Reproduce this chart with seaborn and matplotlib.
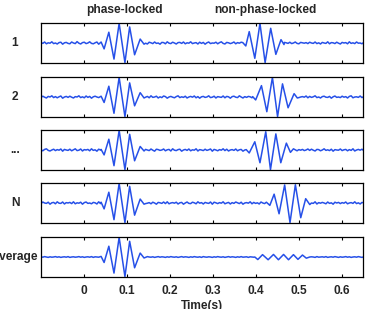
import numpy as np
import pandas as pd
import matplotlib
matplotlib.use("Agg")
import matplotlib.pyplot as plt
import seaborn as sns

# ---------------- data ----------------
row_labels = ["1", "2", "...", "N", "Average"]
col_titles = ["phase-locked", "non-phase-locked"]
x_ticks = [0, 0.1, 0.2, 0.3, 0.4, 0.5, 0.6]
x_tick_labels = ["0", "0.1", "0.2", "0.3", "0.4", "0.5", "0.6"]
x_label = "Time(s)"

noise_t0 = -0.1      # s, first noise sample
noise_dt = 0.0042    # s, noise sample spacing

# burst extrema (time in s, amplitude)
pl1_t = [0.040, 0.047, 0.058, 0.070, 0.082, 0.0955, 0.1065, 0.118, 0.131, 0.140]
pl1_v = [0.05, -0.30, 0.55, -0.82, 1.00, -1.00, 0.82, -0.60, 0.20, -0.06]
npl1_t = [0.370, 0.377, 0.385, 0.398, 0.410, 0.422, 0.435, 0.447, 0.459, 0.466]
npl1_v = [0.02, -0.15, 0.58, -0.78, 1.00, -1.00, 0.75, -0.58, 0.17, -0.08]

pl2_t = [0.040, 0.047, 0.058, 0.070, 0.082, 0.0955, 0.1065, 0.118, 0.131, 0.140]
pl2_v = [0.04, -0.28, 0.55, -0.83, 1.00, -1.00, 0.72, -0.45, 0.22, -0.05]
npl2_t = [0.393, 0.400, 0.4135, 0.426, 0.439, 0.451, 0.4625, 0.4755, 0.4895, 0.497]
npl2_v = [0.02, -0.15, 0.58, -0.75, 1.00, -1.00, 0.67, -0.55, 0.17, -0.05]

pl3_t = [0.040, 0.047, 0.058, 0.070, 0.082, 0.0955, 0.1065, 0.118, 0.131, 0.140]
pl3_v = [0.03, -0.25, 0.55, -0.80, 1.00, -1.00, 0.80, -0.55, 0.18, -0.05]
npl3_t = [0.378, 0.385, 0.398, 0.410, 0.4235, 0.4345, 0.447, 0.4585, 0.4715, 0.481]
npl3_v = [0.02, -0.15, 0.42, -0.65, 0.93, -1.00, 0.82, -0.65, 0.35, -0.12]

plN_t = [0.040, 0.047, 0.058, 0.070, 0.082, 0.0955, 0.1065, 0.118, 0.131, 0.140]
plN_v = [0.04, -0.30, 0.55, -0.85, 1.00, -1.00, 0.85, -0.62, 0.20, -0.06]
nplN_t = [0.426, 0.433, 0.443, 0.4545, 0.4675, 0.480, 0.4925, 0.505, 0.5165, 0.526]
nplN_v = [0.02, -0.12, 0.45, -0.55, 0.92, -1.00, 0.93, -0.75, 0.22, -0.08]

plA_t = [0.040, 0.047, 0.058, 0.070, 0.082, 0.0955, 0.1065, 0.118, 0.131, 0.140]
plA_v = [0.03, -0.28, 0.55, -0.82, 1.00, -1.00, 0.80, -0.55, 0.20, -0.05]
nplA_t = [0.398, 0.405, 0.416, 0.429, 0.4415, 0.453, 0.465, 0.4765, 0.488, 0.4985, 0.509, 0.518, 0.526]
nplA_v = [0.00, -0.13, 0.12, -0.14, 0.13, -0.14, 0.13, -0.14, 0.12, -0.12, 0.10, -0.06, 0.00]

# baseline noise read as hundredths of the burst amplitude
noise1 = [3,-2,5,-4,1,-1,6,-3,0,-5,2,4,-6,1,3,-2,-4,5,0,-3,
          7,-1,-5,2,4,-3,0,6,-2,-4,1,5,-6,2,-1,3,-3,0,4,-5,
          2,6,-2,-4,3,0,-1,5,-6,1,4,-3,2,-2,0,6,-4,3,-1,-5,
          4,1,-3,5,-2,0,-6,3,2,-4,6,-1,-3,4,0,-5,2,3,-2,5,
          -4,1,-1,6,-3,0,2,-5,4,-2,3,-6,1,5,-3,0,-1,4,-4,2,
          6,-2,-5,3,1,-3,0,5,-4,2,-1,4,-6,3,0,-2,5,-3,1,-4,
          6,-1,-2,3,-5,2,0,4,-3,1,5,-4,-1,2,-6,3,1,-2,4,-3,
          0,5,-2,-4,3,1,-1,2,-3,4,0,-2,5,-3,1,-5,3,0,-2,6,
          -4,2,1,-3,4,-1,-5,3,0,2,-4,6,-2,1,-3,5,-1,0,-4,3]
noise2 = [-2,4,-1,-5,3,0,6,-3,2,-4,1,5,-6,0,3,-2,4,-1,-5,2,
          0,6,-3,1,-4,5,-2,3,-6,1,4,0,-3,2,-5,6,-1,-2,3,-4,
          5,0,-3,2,-1,6,-5,1,3,-2,-4,4,0,-6,2,5,-3,1,-1,3,
          -4,6,-2,0,4,-5,1,-3,5,2,-6,0,3,-1,-4,2,6,-3,1,-2,
          4,-5,0,3,-1,5,-4,2,-6,1,3,-2,0,6,-3,-1,4,-5,2,0,
          -2,5,-4,3,1,-6,2,4,-1,-3,6,0,-5,2,-2,3,1,-4,5,-1,
          0,-3,4,-6,2,1,-2,5,-3,0,4,-5,3,-1,2,6,-4,0,-2,3,
          -5,1,4,-3,0,2,-1,5,-4,3,-2,1,6,-3,0,-5,2,4,-1,-2,
          3,-6,1,5,-2,0,-3,4,-1,2,-5,3,6,-4,0,1,-2,5,-3,2]
noise3 = [1,-4,3,6,-2,-5,0,4,-3,2,-1,5,-6,3,0,-2,4,-4,1,6,
          -3,-1,5,-5,2,0,3,-4,6,-2,1,-6,4,0,-3,5,-1,2,-5,3,
          6,-4,0,1,-2,4,-6,3,-1,5,-3,0,2,-5,6,-2,-4,1,3,0,
          -3,5,-1,-6,4,2,-2,0,5,-4,1,3,-5,6,-1,-3,2,4,-6,0,
          3,-2,5,-4,1,-1,6,-5,2,0,-3,4,-2,1,5,-6,3,0,-4,2,
          -1,6,-3,4,-5,0,2,-2,5,-4,1,3,-6,0,4,-1,-3,5,-2,2,
          -5,4,1,-3,6,-2,0,3,-4,1,-1,5,-6,2,3,-3,0,4,-2,-5,
          6,1,-4,2,-1,3,-3,0,5,-2,4,-1,-5,3,2,-4,0,6,-2,1,
          -3,4,-6,2,0,-1,5,-3,1,3,-4,2,-2,6,-5,0,3,-1,4,-3]
noiseN = [-3,5,0,-2,4,-6,1,3,-4,6,-1,-2,5,-5,2,0,3,-3,6,-4,
          1,-1,4,-6,2,5,-2,0,-4,3,1,-5,6,-3,0,2,-1,4,-5,3,
          -2,6,0,-4,1,5,-3,2,-6,4,-1,0,3,-2,5,-5,1,6,-3,-1,
          2,-4,4,0,-6,3,1,-2,5,-3,6,-4,0,2,-1,4,-5,1,3,-6,
          0,5,-2,-3,4,1,-4,6,-1,2,-5,3,0,-2,5,-6,4,1,-3,2,
          -1,6,-4,0,3,-5,2,-2,5,1,-3,4,-6,0,2,-1,6,-4,3,-2,
          1,-5,5,0,-3,4,-1,2,-6,3,0,-2,5,-4,1,6,-3,-1,4,-5,
          2,0,-2,3,-4,5,-1,1,-3,4,0,-2,6,-5,2,-1,3,0,-4,5,
          -2,1,-6,4,0,3,-3,2,-1,5,-4,0,2,-2,6,-3,1,-5,3,0]
noiseA = [1,-1,2,0,-2,1,-1,0,2,-1,1,-2,0,1,-1,2,-2,0,1,-1,
          0,2,-1,1,-2,0,1,-1,2,-2,1,0,-1,2,-1,0,1,-2,1,0,
          -1,2,0,-2,1,-1,2,0,-1,1,-2,1,0,-1,2,-1,0,1,-2,2,
          0,-1,1,-2,0,2,-1,1,0,-2,1,-1,2,0,-1,1,-2,0,2,-1,
          1,0,-2,1,-1,2,0,-1,1,-2,2,0,-1,1,0,-2,1,-1,2,0,
          -1,1,-2,0,2,-1,1,0,-2,1,-1,2,-1,0,1,-2,1,0,-1,2,
          0,-2,1,-1,2,0,-1,1,-2,0,1,-1,2,-1,0,1,-2,1,0,-1,
          2,-1,0,1,-2,1,-1,0,2,-1,1,0,-2,2,-1,0,1,-1,2,-2,
          0,1,-1,2,0,-2,1,-1,0,2,-1,1,-2,0,1,-1,2,0,-2,1]

traces = [
    (noise1, [(pl1_t, pl1_v), (npl1_t, npl1_v)]),
    (noise2, [(pl2_t, pl2_v), (npl2_t, npl2_v)]),
    (noise3, [(pl3_t, pl3_v), (npl3_t, npl3_v)]),
    (noiseN, [(plN_t, plN_v), (nplN_t, nplN_v)]),
    (noiseA, [(plA_t, plA_v), (nplA_t, nplA_v)]),
]


def build(noise, bursts):
    t = noise_t0 + noise_dt * np.arange(len(noise))
    v = np.asarray(noise, float) / 100.0
    keep = np.ones(len(t), bool)
    for bt, _ in bursts:
        keep &= ~((t >= bt[0]) & (t <= bt[-1]))
    tt = np.concatenate([t[keep]] + [np.asarray(b[0], float) for b in bursts])
    vv = np.concatenate([v[keep]] + [np.asarray(b[1], float) for b in bursts])
    order = np.argsort(tt, kind="stable")
    return pd.DataFrame({"t": tt[order], "v": vv[order]})


# ---------------- style ----------------
sns.set_style("white")
plt.rcParams["font.family"] = ["Liberation Sans", "DejaVu Sans"]
plt.rcParams["font.weight"] = "bold"

W, H = 365, 309
fig = plt.figure(figsize=(W / 100, H / 100), dpi=100)
line_color = "#2650e8"
fs = 8.6

left_px, right_px = 41, 363
tops_px = [23, 77, 130, 183, 237]
panel_h = 40

for i, (noise, bursts) in enumerate(traces):
    top = tops_px[i]
    ax = fig.add_axes([left_px / W, 1 - (top + panel_h) / H,
                       (right_px - left_px) / W, panel_h / H])
    df = build(noise, bursts)
    sns.lineplot(data=df, x="t", y="v", ax=ax, color=line_color,
                 lw=1.1, estimator=None, sort=False)
    ax.set_xlim(-0.1, 0.65)
    ax.set_ylim(-1.02, 1.02)
    ax.set_yticks([])
    ax.set_xticks(x_ticks)
    ax.set_xlabel("")
    ax.set_ylabel("")
    for s in ax.spines.values():
        s.set_visible(True)
        s.set_color("black")
        s.set_linewidth(0.9)
    ax.tick_params(axis="x", direction="in", length=2.5, width=0.8,
                   top=True, bottom=True, color="black")
    if i == len(traces) - 1:
        ax.set_xticklabels(x_tick_labels, fontsize=fs, fontweight="bold")
        ax.tick_params(axis="x", pad=6)
    else:
        ax.set_xticklabels([])
    fig.text(15 / W, 1 - (top + panel_h / 2) / H, row_labels[i],
             ha="center", va="center", fontsize=fs, fontweight="bold")

fig.text(124.5 / W, 1 - 10 / H, col_titles[0], ha="center", va="center",
         fontsize=fs, fontweight="bold")
fig.text(265 / W, 1 - 10 / H, col_titles[1], ha="center", va="center",
         fontsize=fs, fontweight="bold")
fig.text((left_px + right_px) / 2 / W, 1 - 300 / H, x_label, ha="center",
         va="top", fontsize=fs, fontweight="bold")

fig.savefig("out.png", dpi=100)
